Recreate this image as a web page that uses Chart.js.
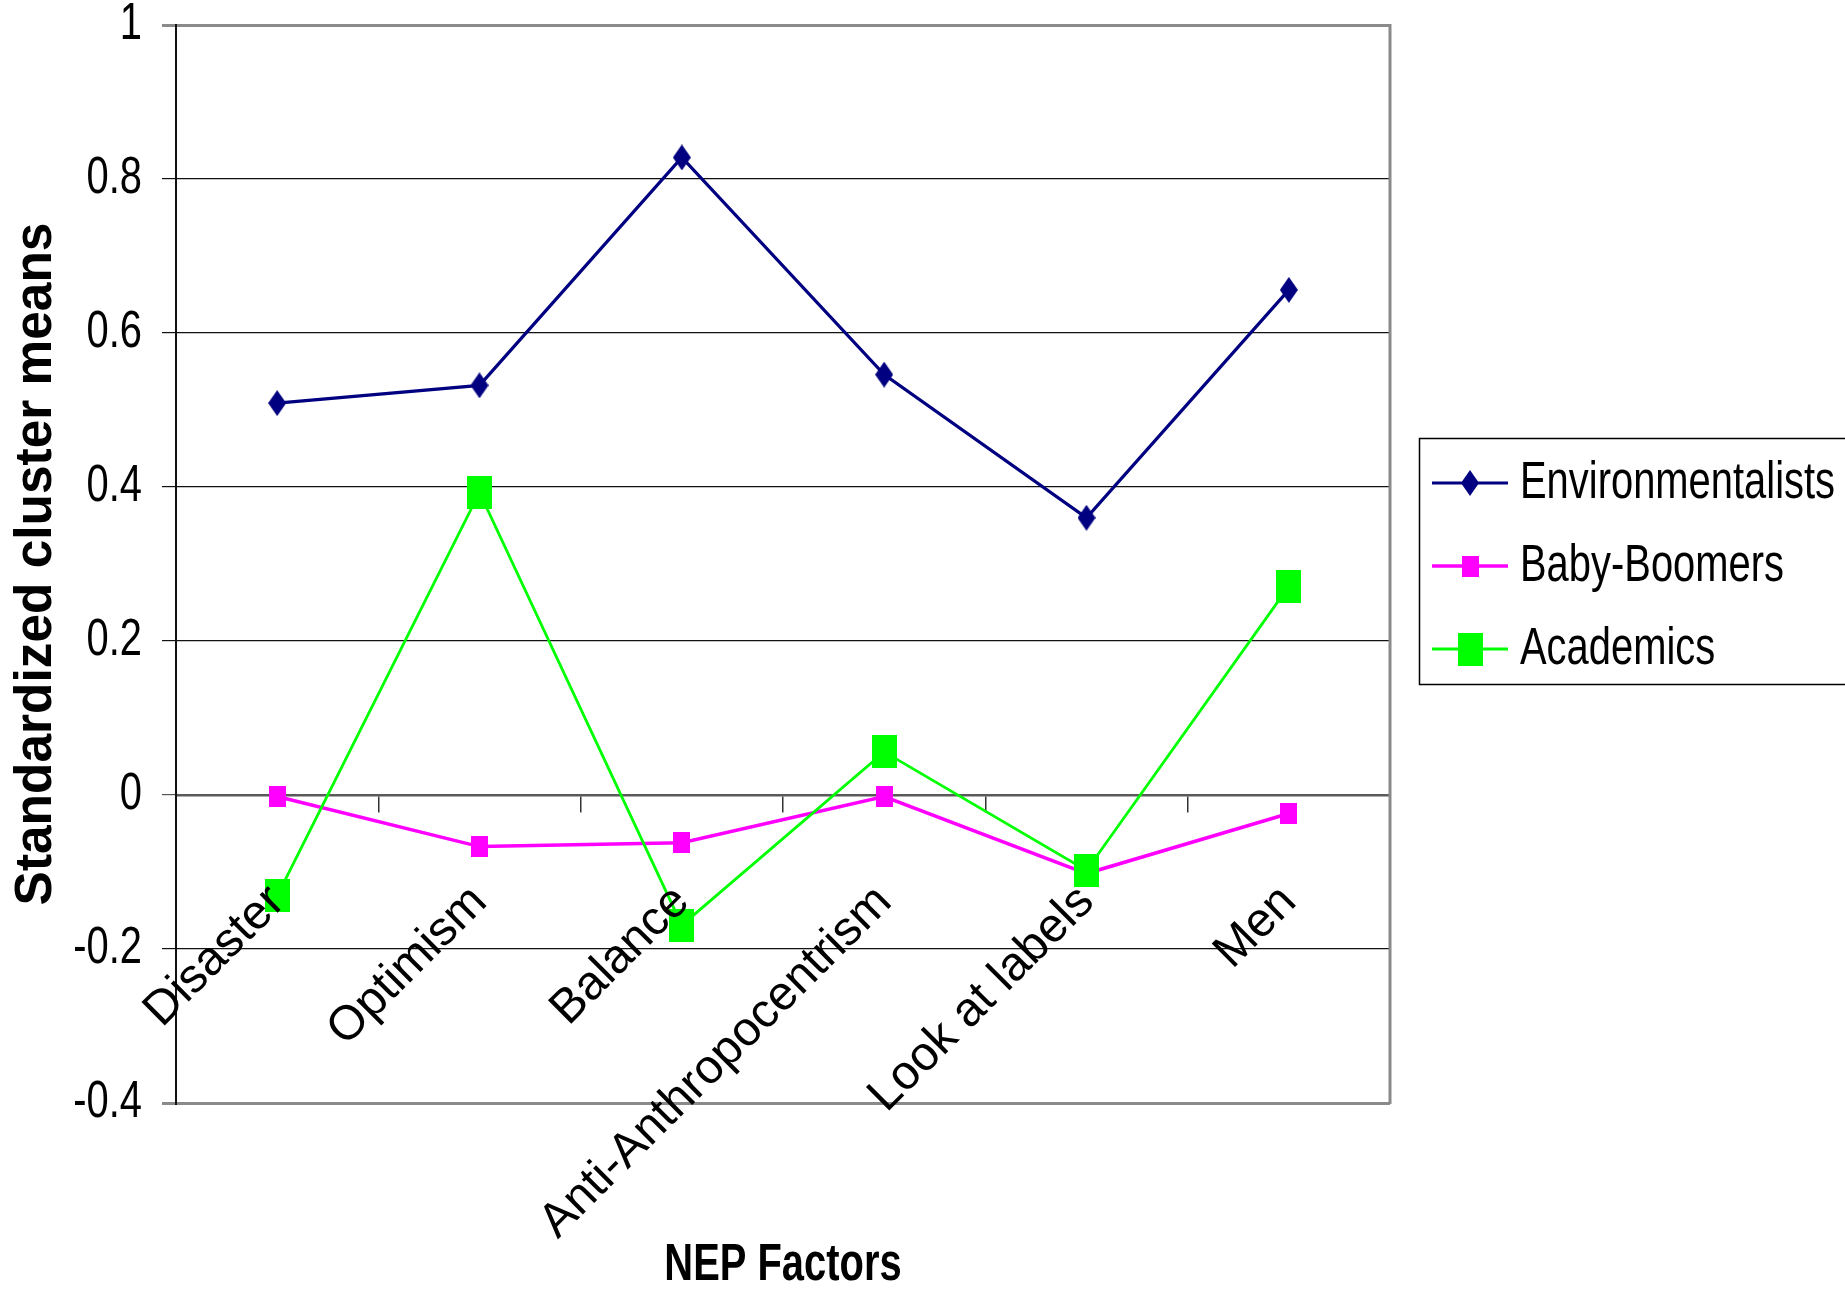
<!DOCTYPE html>
<html>
<head>
<meta charset="utf-8">
<script src="https://cdn.jsdelivr.net/npm/chart.js@4.4.0/dist/chart.umd.min.js"></script>
<style>
  html, body { margin: 0; padding: 0; background: #ffffff; }
  #wrap { width: 1845px; height: 1291px; position: relative; }
</style>
</head>
<body>
<div id="wrap"><canvas id="chart" width="1845" height="1291"></canvas></div>
<script>
// ---------------- data ----------------
const categories = ['Disaster', 'Optimism', 'Balance', 'Anti-Anthropocentrism', 'Look at labels', 'Men'];
const seriesNames = ['Environmentalists', 'Baby-Boomers', 'Academics'];
const environmentalists = [0.509, 0.532, 0.828, 0.546, 0.360, 0.656];
const babyBoomers = [-0.002, -0.067, -0.062, -0.002, -0.102, -0.024];
const academics = [-0.131, 0.393, -0.169, 0.056, -0.098, 0.271];
const yTickValues = [-0.4, -0.2, 0, 0.2, 0.4, 0.6, 0.8, 1];
const xAxisTitle = 'NEP Factors';
const yAxisTitle = 'Standardized cluster means';

// ---------------- fonts ----------------
const fam = '"Liberation Sans", Arial, sans-serif';
function measure(text, font) {
  const c = document.createElement('canvas').getContext('2d');
  c.font = font;
  return c.measureText(text).width;
}
const textSize = 51;                 // horizontal texts (ticks, legend)
const labelSize = 48;                // rotated category labels
const titleSize = 51;                // "NEP Factors"
const yTitleSize = 100 * 683 / measure(yAxisTitle, 'bold 100px ' + fam);
// horizontal texts of the original are horizontally condensed
const SQ = 315 / measure('Environmentalists', textSize + 'px ' + fam);

// ---------------- markers ----------------
function makeMarker(shape, w, h, color) {
  const cv = document.createElement('canvas');
  cv.width = w; cv.height = h;
  const g = cv.getContext('2d');
  g.fillStyle = color;
  if (shape === 'diamond') {
    g.beginPath(); g.moveTo(w / 2, 0); g.lineTo(w, h / 2); g.lineTo(w / 2, h); g.lineTo(0, h / 2); g.closePath(); g.fill();
  } else {
    g.fillRect(0, 0, w, h);
  }
  return cv;
}
const colors = ['#000080', '#FF00FF', '#00FF00'];
const markers = [
  makeMarker('diamond', 18, 26, colors[0]),
  makeMarker('rect', 17, 21, colors[1]),
  makeMarker('rect', 25, 33, colors[2])
];
const lineWidths = [3.2, 3.5, 2.8];

// ---------------- layout constants ----------------
const PLOT_LEFT = 176, PLOT_TOP = 25, PLOT_RIGHT = 1390, PLOT_BOTTOM = 1103, H = 1291, W = 1845;
const TITLE_LH = 1.0;
const titleBox = titleSize * TITLE_LH;
const titlePadTop = 1265.5 - PLOT_BOTTOM - titleBox / 2;
const titlePadBottom = Math.max(0, H - PLOT_BOTTOM - titleBox - titlePadTop);

// ---------------- plugins ----------------
const squeeze = {
  id: 'squeeze',
  beforeInit(chart) {
    const ctx = chart.ctx;
    const orig = ctx.fillText;
    ctx.fillText = function (text, x, y, maxWidth) {
      const t = this.getTransform();
      if (Math.abs(t.b) > 1e-6 || Math.abs(t.c) > 1e-6) {
        return maxWidth === undefined ? orig.call(this, text, x, y) : orig.call(this, text, x, y, maxWidth);
      }
      let w = this.measureText(text).width * SQ;
      if (maxWidth !== undefined && maxWidth < w) w = maxWidth;
      return orig.call(this, text, x, y, w);
    };
  }
};
const frame = {
  id: 'frame',
  beforeDatasetsDraw(chart) {
    const { ctx, chartArea: a } = chart;
    ctx.save();
    ctx.strokeStyle = '#8a8a8a';
    ctx.lineWidth = 3;
    ctx.beginPath(); ctx.moveTo(a.right, a.top - 1); ctx.lineTo(a.right, a.bottom + 1); ctx.stroke();
    ctx.restore();
  }
};
const boxLegend = {
  id: 'boxLegend',
  afterDraw(chart) {
    const { ctx, chartArea: a } = chart;
    const left = a.right + 29, top = 438, bottom = 684;
    ctx.save();
    ctx.strokeStyle = '#000'; ctx.lineWidth = 1.5;
    ctx.strokeRect(left + 0.5, top + 0.5, W - left + 20, bottom - top);
    const rowY = [483, 566, 649];
    chart.data.datasets.forEach((ds, i) => {
      const y = rowY[i];
      ctx.strokeStyle = ds.borderColor; ctx.lineWidth = ds.borderWidth;
      ctx.beginPath(); ctx.moveTo(left + 13, y); ctx.lineTo(left + 89, y); ctx.stroke();
      const m = ds.pointStyle;
      ctx.drawImage(m, Math.round(left + 51 - m.width / 2), Math.round(y - m.height / 2));
      ctx.fillStyle = '#000';
      ctx.font = textSize + 'px ' + fam;
      ctx.textBaseline = 'middle'; ctx.textAlign = 'left';
      ctx.fillText(ds.label, left + 101, y + 1);
    });
    ctx.restore();
  }
};

// ---------------- chart ----------------
const seriesValues = [environmentalists, babyBoomers, academics];
const datasets = seriesNames.map((name, i) => ({
  label: name,
  data: seriesValues[i],
  xAxisID: 'x',
  yAxisID: 'y',
  borderColor: colors[i],
  backgroundColor: colors[i],
  borderWidth: lineWidths[i],
  pointStyle: markers[i],
  pointRadius: 12,
  pointHoverRadius: 12,
  tension: 0,
  fill: false,
  order: 2 - i
}));

function isEdge(v) { return Math.abs(v - 1) < 1e-9 || Math.abs(v + 0.4) < 1e-9; }

new Chart(document.getElementById('chart'), {
  type: 'line',
  data: { labels: categories, datasets },
  plugins: [squeeze, frame, boxLegend],
  options: {
    responsive: false,
    animation: false,
    devicePixelRatio: 1,
    layout: { padding: { top: PLOT_TOP, right: W - PLOT_RIGHT, bottom: 0, left: 0 } },
    plugins: {
      legend: { display: false },
      tooltip: { enabled: false },
      title: {
        display: true, text: xAxisTitle, position: 'bottom', fullSize: false,
        color: '#000', font: { family: fam, size: titleSize, weight: 'bold', lineHeight: TITLE_LH },
        padding: { top: titlePadTop, bottom: titlePadBottom }
      }
    },
    scales: {
      // axis line and tick marks (under the series)
      x: {
        type: 'category',
        offset: true,
        position: { y: 0 },
        grid: { display: true, drawOnChartArea: false, drawTicks: true, tickLength: 16, color: '#333', lineWidth: 1.5, offset: true },
        border: { display: true, color: '#5a5a5a', width: 2.5 },
        ticks: { display: false, autoSkip: false, maxRotation: 45, minRotation: 45 },
        afterFit(s) { s.paddingLeft = 0; s.paddingRight = 0; }
      },
      // category labels (drawn over the series, as in the original)
      x2: {
        type: 'category',
        axis: 'x',
        offset: true,
        position: { y: 0 },
        grid: { display: true, drawOnChartArea: false, drawTicks: true, tickLength: 16, color: 'rgba(0,0,0,0)', offset: true },
        border: { display: false },
        ticks: {
          z: 1,
          autoSkip: false, maxRotation: 45, minRotation: 45, padding: 63, labelOffset: 0,
          color: '#000', font: { family: fam, size: labelSize, lineHeight: 1.2 }
        },
        afterFit(s) { s.paddingLeft = 0; s.paddingRight = 0; }
      },
      y: {
        type: 'linear',
        min: -0.4, max: 1,
        afterBuildTicks(s) { s.ticks = yTickValues.map(v => ({ value: v })); },
        grid: {
          drawTicks: true, tickLength: 14,
          color: c => (c.tick && isEdge(c.tick.value)) ? '#8a8a8a' : (c.tick && c.tick.value === 0 ? '#555' : '#111'),
          lineWidth: c => (c.tick && isEdge(c.tick.value)) ? 3 : 1.2
        },
        border: { display: true, color: '#111', width: 2 },
        ticks: {
          padding: 20, color: '#000',
          font: { family: fam, size: textSize, lineHeight: 1.2 },
          callback: v => String(Math.round(v * 10) / 10)
        },
        title: {
          display: true, text: yAxisTitle, color: '#000',
          font: { family: fam, size: yTitleSize, weight: 'bold', lineHeight: 1.2 },
          padding: { top: 6, bottom: 0 }
        },
        afterFit(s) { s.width = PLOT_LEFT; s.paddingTop = 0; s.paddingBottom = 0; }
      }
    }
  }
});
</script>
</body>
</html>
